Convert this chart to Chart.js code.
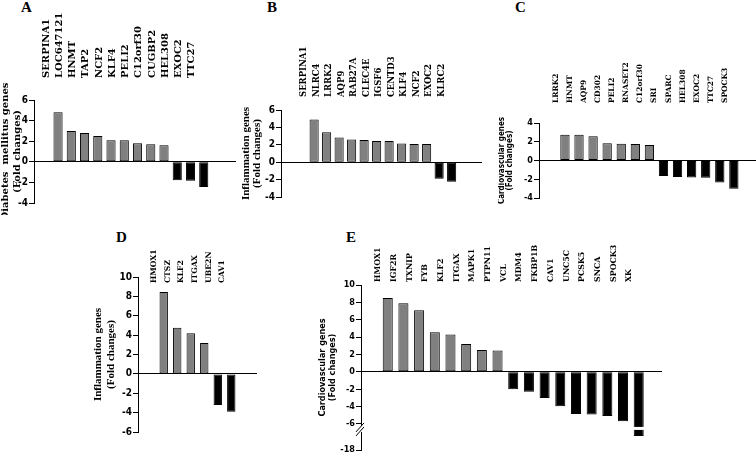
<!DOCTYPE html>
<html>
<head>
<meta charset="utf-8">
<script src="https://cdn.jsdelivr.net/npm/chart.js@4.4.1/dist/chart.umd.min.js"></script>
<style>
  body { margin: 0; background: #fff; width: 756px; height: 456px; overflow: hidden; position: relative; }
  canvas { position: absolute; }
  .tag { position: absolute; font: bold 15px "Liberation Serif", serif; line-height: 15px; color: #000; }
</style>
</head>
<body>
<div class="tag" style="left:21px;top:0px">A</div>
<div class="tag" style="left:267px;top:0px">B</div>
<div class="tag" style="left:515px;top:0px">C</div>
<div class="tag" style="left:116px;top:230px">D</div>
<div class="tag" style="left:346px;top:230px">E</div>

<canvas id="chartA" width="237" height="215" style="left:-1px;top:0px"></canvas>
<canvas id="chartB" width="241" height="209" style="left:241px;top:0px"></canvas>
<canvas id="chartC" width="258" height="210" style="left:498px;top:0px"></canvas>
<canvas id="chartD" width="165" height="244" style="left:92px;top:200px"></canvas>
<canvas id="chartE" width="344" height="240" style="left:318px;top:220px"></canvas>

<script>
// A: diabetes mellitus genes
const genesA = ["SERPINA1", "LOC647121", "HNMT", "TAP2", "NCF2", "KLF4", "PELI2", "C12orf30", "CUGBP2", "HEL308", "EXOC2", "TTC27"];
const foldA = [4.8, 3.0, 2.8, 2.5, 2.1, 2.1, 1.8, 1.7, 1.6, -1.8, -1.85, -2.45];
const ticksA = [-4, -2, 0, 2, 4, 6];

// B: inflammation genes
const genesB = ["SERPINA1", "NLRC4", "LRRK2", "AQP9", "RAB27A", "CLEC4E", "IGSF6", "CENTD3", "KLF4", "NCF2", "EXOC2", "KLRC2"];
const foldB = [4.9, 3.45, 2.85, 2.6, 2.55, 2.45, 2.45, 2.15, 2.1, 2.1, -1.9, -2.25];
const ticksB = [-4, -2, 0, 2, 4, 6];

// C: cardiovascular genes
const genesC = ["LRRK2", "HNMT", "AQP9", "CD302", "PELI2", "RNASET2", "C12orf30", "SRI", "SPARC", "HEL308", "EXOC2", "TTC27", "SPOCK3"];
const foldC = [2.75, 2.75, 2.6, 1.85, 1.8, 1.75, 1.65, -1.65, -1.75, -1.8, -1.85, -2.35, -3.0];
const ticksC = [-4, -2, 0, 2, 4];

// D: inflammation genes
const genesD = ["HMOX1", "CTSZ", "KLF2", "ITGAX", "UBE2N", "CAV1"];
const foldD = [8.45, 4.75, 4.2, 3.2, -3.2, -3.9];
const ticksD = [-6, -4, -2, 0, 2, 4, 6, 8, 10];

// E: cardiovascular genes (axis broken below -6)
const genesE = ["HMOX1", "IGF2R", "TXNIP", "FYB", "KLF2", "ITGAX", "MAPK1", "PTPN11", "VCL", "MDM4", "FKBP1B", "CAV1", "UNC5C", "PCSK5", "SNCA", "SPOCK3", "XK"];
const foldE = [8.5, 7.9, 7.1, 4.55, 4.3, 3.2, 2.5, 2.45, -2.0, -2.3, -3.0, -3.95, -4.85, -4.9, -5.1, -5.7, -11.5];
const ticksE = [-18, -6, -4, -2, 0, 2, 4, 6, 8, 10];
const breakE = -6;

const wideSerif = '"DejaVu Serif", "Liberation Serif", serif';
const timesFont = '"Liberation Serif", serif';
const narrowSans = '"Liberation Sans Narrow", "DejaVu Sans Condensed", "Liberation Sans", sans-serif';
const BREAK_FRAC = 0.842; // share of the axis height above the break

// linear scale with a compressed part under the break value
class BrokenScale extends Chart.LinearScale {
  getPixelForValue(value) {
    const split = this.top + (this.bottom - this.top) * BREAK_FRAC;
    if (value >= breakE) return this.top + (this.max - value) / (this.max - breakE) * (split - this.top);
    return split + (breakE - value) / (breakE - this.min) * (this.bottom - split);
  }
  getValueForPixel(px) {
    const split = this.top + (this.bottom - this.top) * BREAK_FRAC;
    if (px <= split) return this.max - (px - this.top) / (split - this.top) * (this.max - breakE);
    return breakE - (px - split) / (this.bottom - split) * (breakE - this.min);
  }
}
BrokenScale.id = 'broken';
BrokenScale.defaults = Chart.LinearScale.defaults;
Chart.register(BrokenScale);

const breakMarks = {
  id: 'breakMarks',
  afterDatasetsDraw(chart) {
    const y = chart.scales.y;
    const c = chart.ctx;
    const py = y.getPixelForValue(breakE);
    const ax = y.right;
    c.save();
    c.fillStyle = '#fff';
    chart.getDatasetMeta(0).data.forEach((bar, i) => {
      if (foldE[i] < breakE) c.fillRect(bar.x - bar.width / 2 - 1, py + 3, bar.width + 2, 3);
    });
    c.fillRect(ax - 2, py + 2, 4, 6);
    c.strokeStyle = '#000';
    c.lineWidth = 1;
    c.beginPath();
    c.moveTo(ax - 5, py + 8); c.lineTo(ax + 3, py - 1);
    c.moveTo(ax - 5, py + 12); c.lineTo(ax + 3, py + 3);
    c.stroke();
    c.restore();
  }
};

function panel(id, genes, fold, ticks, st) {
  return new Chart(document.getElementById(id), {
    type: 'bar',
    data: {
      datasets: [{
        data: fold.map((v, i) => ({ x: i, y: v })),
        backgroundColor: fold.map(v => v >= 0 ? '#808080' : '#000'),
        borderColor: '#000',
        borderWidth: 1,
        borderSkipped: false,
        categoryPercentage: 1,
        barPercentage: st.bar
      }]
    },
    plugins: st.plugins || [],
    options: {
      responsive: false,
      animation: false,
      devicePixelRatio: 1,
      layout: { padding: { left: 0, right: 0, top: 0, bottom: st.padBottom } },
      plugins: { legend: { display: false }, tooltip: { enabled: false } },
      scales: {
        x: {
          type: 'linear',
          position: 'top',
          bounds: 'data',
          min: st.xmin,
          max: st.xmax,
          afterBuildTicks: s => { s.ticks = genes.map((g, i) => ({ value: i })); },
          afterFit: s => {
            s.height = st.top; s.paddingLeft = 0; s.paddingRight = 0;
            s._computeLabelArea = () => undefined; // let gene names run into the plot
          },
          grid: { display: false, drawTicks: false },
          border: { display: false },
          ticks: {
            autoSkip: false, minRotation: 90, maxRotation: 90,
            padding: st.labelPad, color: '#000',
            font: { family: wideSerif, weight: 'bold', size: st.labelSize },
            callback: (v, i) => genes[i]
          }
        },
        y: {
          type: st.broken ? 'broken' : 'linear',
          bounds: 'data',
          min: Math.min(...ticks),
          max: Math.max(...ticks),
          afterBuildTicks: s => { s.ticks = ticks.map(v => ({ value: v })); },
          afterFit: s => { s.width = st.left; s.paddingTop = 0; s.paddingBottom = 0; },
          grid: {
            color: c => (c.tick && c.tick.value === 0) ? '#000' : 'rgba(0,0,0,0)',
            tickColor: '#000', tickLength: 5, lineWidth: 1
          },
          border: { display: true, color: '#000', width: 1 },
          ticks: { padding: 1, color: '#000', font: { family: narrowSans, weight: 'bold', size: st.tickSize } },
          title: {
            display: true, text: st.title, color: '#000', padding: 0,
            font: { family: st.titleFamily, weight: 'bold', size: st.titleSize, lineHeight: st.titleLH }
          }
        }
      }
    }
  });
}

panel('chartA', genesA, foldA, ticksA, {
  left: 35, top: 100, padBottom: 12, xmin: -1.18, xmax: 12.8, bar: 0.69,
  labelPad: 22, labelSize: 10, tickSize: 10,
  title: ['Diabetes  mellitus genes', '(Fold changes)'], titleFamily: wideSerif, titleSize: 10, titleLH: 1.2
});
panel('chartB', genesB, foldB, ticksB, {
  left: 40, top: 110, padBottom: 12, xmin: -1.98, xmax: 12.76, bar: 0.73,
  labelPad: 13, labelSize: 8.5, tickSize: 10,
  title: ['Inflammation genes', '(Fold changes)'], titleFamily: timesFont, titleSize: 11, titleLH: 1.0
});
panel('chartC', genesC, foldC, ticksC, {
  left: 41, top: 123, padBottom: 12, xmin: -1.25, xmax: 12.98, bar: 0.66,
  labelPad: 20, labelSize: 7.5, tickSize: 9,
  title: ['Cardiovascular genes', '(Fold changes)'], titleFamily: narrowSans, titleSize: 8, titleLH: 1.0
});
panel('chartD', genesD, foldD, ticksD, {
  left: 46, top: 77, padBottom: 12, xmin: -1.17, xmax: 6.17, bar: 0.62,
  labelPad: -6, labelSize: 7.7, tickSize: 10,
  title: ['Inflammation genes', '(Fold changes)'], titleFamily: timesFont, titleSize: 11, titleLH: 1.15
});
panel('chartE', genesE, foldE, ticksE, {
  left: 43, top: 65, padBottom: 10, xmin: -1.14, xmax: 16.92, bar: 0.64,
  labelPad: 3, labelSize: 7.9, tickSize: 9, broken: true, plugins: [breakMarks],
  title: ['Cardiovascular genes', '(Fold changes)'], titleFamily: narrowSans, titleSize: 9, titleLH: 1.05
});
</script>
</body>
</html>
